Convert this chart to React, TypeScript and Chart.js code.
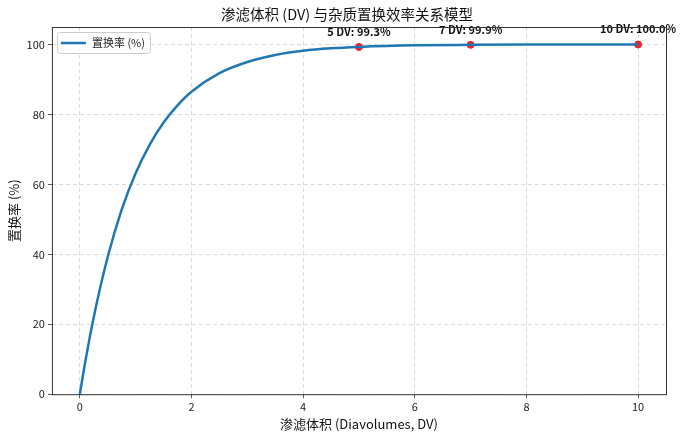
import { useEffect, useRef } from "react";
import { Chart, registerables } from "chart.js";

Chart.register(...registerables);

const FONT = "'Noto Sans CJK SC', 'Noto Sans', sans-serif";

// curve
const DV = [0, 0.1, 0.25, 0.5, 0.75, 1, 1.25, 1.5, 1.75, 2, 2.5, 3, 3.5, 4, 4.5, 5, 6, 7, 8, 9, 10];
const RATE = [0, 9.5, 22.1, 39.3, 52.8, 63.2, 71.3, 77.7, 82.6, 86.5, 91.8, 95.0, 97.0, 98.2, 98.9, 99.3, 99.75, 99.9, 99.97, 99.99, 100];

// highlighted points
const MARK_DV = [5, 7, 10];
const MARK_RATE = [99.3, 99.9, 100.0];
const MARK_LABELS = ["5 DV: 99.3%", "7 DV: 99.9%", "10 DV: 100.0%"];

const X_TICKS = [0, 2, 4, 6, 8, 10];
const Y_TICKS = [0, 20, 40, 60, 80, 100];

const TITLE = "渗滤体积 (DV) 与杂质置换效率关系模型";

const frameAndNotes = {
  id: "frameAndNotes",
  afterDatasetsDraw(chart: any) {
    const { ctx, chartArea: a, scales } = chart;
    ctx.save();
    // title (matplotlib centres it a bit right of the page centre)
    ctx.font = `14.5px ${FONT}`;
    ctx.fillStyle = "#111";
    ctx.textAlign = "center";
    ctx.textBaseline = "middle";
    ctx.fillText(TITLE, 347, 14);
    // annotations
    ctx.font = `bold 11px ${FONT}`;
    ctx.textBaseline = "bottom";
    MARK_DV.forEach((x, i) => {
      const px = scales.x.getPixelForValue(x);
      const py = scales.y.getPixelForValue(MARK_RATE[i]);
      ctx.fillText(MARK_LABELS[i], px, py - 10);
    });
    // frame
    ctx.strokeStyle = "#333";
    ctx.lineWidth = 1;
    ctx.strokeRect(a.left + 0.5, a.top + 0.5, a.right - a.left, a.bottom - a.top);
    // legend
    const lx = a.left + 5;
    const ly = a.top + 5;
    const w = 93;
    const h = 21;
    ctx.fillStyle = "rgba(255,255,255,0.85)";
    ctx.strokeStyle = "#ccc";
    ctx.lineWidth = 1;
    ctx.beginPath();
    ctx.roundRect(lx + 0.5, ly + 0.5, w, h, 3);
    ctx.fill();
    ctx.stroke();
    ctx.strokeStyle = "#1f77b4";
    ctx.lineWidth = 2.5;
    ctx.beginPath();
    ctx.moveTo(lx + 4, ly + 11);
    ctx.lineTo(lx + 29, ly + 11);
    ctx.stroke();
    ctx.font = `11px ${FONT}`;
    ctx.fillStyle = "#222";
    ctx.textAlign = "left";
    ctx.textBaseline = "middle";
    ctx.fillText("置换率 (%)", lx + 35, ly + 11);
    ctx.restore();
  },
};

export default function App() {
  const canvasRef = useRef<HTMLCanvasElement>(null);

  useEffect(() => {
    if (!canvasRef.current) return;
    const chart = new Chart(canvasRef.current, {
      type: "line",
      data: {
        datasets: [
          {
            label: "置换率 (%)",
            data: DV.map((x, i) => ({ x, y: RATE[i] })),
            borderColor: "#1f77b4",
            borderWidth: 2.5,
            pointRadius: 0,
            cubicInterpolationMode: "monotone",
            order: 1,
          },
          {
            type: "scatter",
            label: "marks",
            data: MARK_DV.map((x, i) => ({ x, y: MARK_RATE[i] })),
            backgroundColor: "#e8232b",
            borderColor: "#e8232b",
            pointRadius: 3.5,
            order: 2,
          } as any,
        ],
      },
      options: {
        responsive: false,
        animation: false,
        layout: { padding: { left: 4, right: 17, top: 27, bottom: 6 } },
        plugins: {
          legend: { display: false },
          tooltip: { enabled: false },
          title: { display: false },
        },
        scales: {
          x: {
            type: "linear",
            min: -0.5,
            max: 10.5,
            afterBuildTicks: (axis: any) => {
              axis.ticks = X_TICKS.map((v) => ({ value: v }));
            },
            ticks: { color: "#222", font: { family: FONT, size: 11 }, padding: 2 },
            grid: {
              color: "#d0d0d0",
              tickColor: "#333",
              tickLength: 4,
              lineWidth: 0.8,
            },
            border: { display: false, dash: [4, 3] },
            title: {
              display: true,
              text: "渗滤体积 (Diavolumes, DV)",
              color: "#111",
              font: { family: FONT, size: 13 },
              padding: { top: 1, bottom: 0 },
            },
          },
          y: {
            type: "linear",
            min: 0,
            max: 105,
            afterBuildTicks: (axis: any) => {
              axis.ticks = Y_TICKS.map((v) => ({ value: v }));
            },
            ticks: { color: "#222", font: { family: FONT, size: 11 }, padding: 3 },
            grid: {
              color: "#d0d0d0",
              tickColor: "#333",
              tickLength: 4,
              lineWidth: 0.8,
            },
            border: { display: false, dash: [4, 3] },
            title: {
              display: true,
              text: "置换率 (%)",
              color: "#111",
              font: { family: FONT, size: 13 },
              padding: { top: 2, bottom: 2 },
            },
          },
        },
      },
      plugins: [frameAndNotes],
    });
    return () => chart.destroy();
  }, []);

  return (
    <div style={{ position: "fixed", left: 0, top: 0, width: 683, height: 438, background: "#fff" }}>
      <canvas ref={canvasRef} width={683} height={438} />
    </div>
  );
}
